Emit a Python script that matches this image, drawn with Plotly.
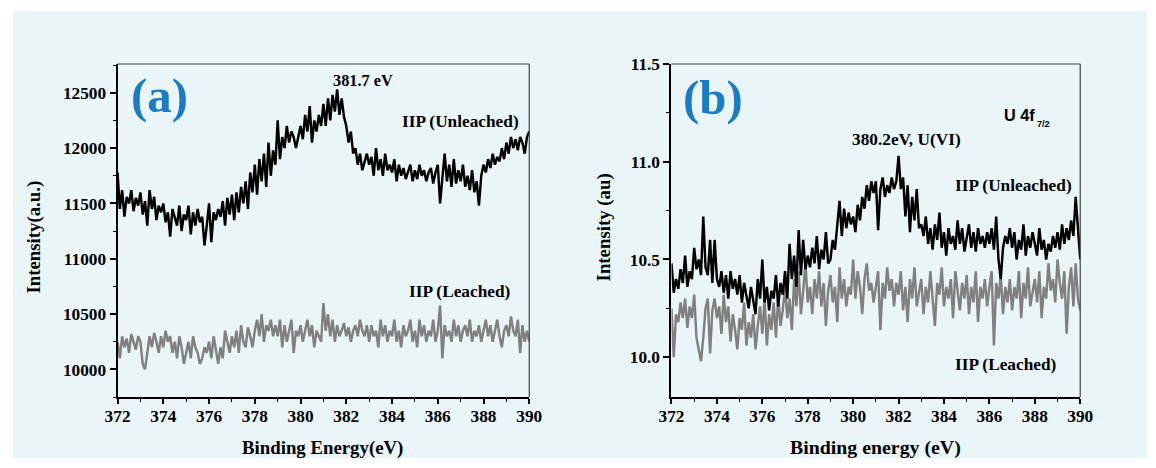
import plotly.graph_objects as go

# ---------------- data ----------------
energy = [round(372 + 0.1 * i, 1) for i in range(181)]

a_unleached = [
    11780, 11450, 11620, 11380, 11560, 11500, 11620, 11430, 11550, 11480,
    11600, 11400, 11520, 11300, 11620, 11450, 11560, 11350, 11480, 11420,
    11500, 11330, 11420, 11200, 11450, 11380, 11300, 11480, 11250, 11400,
    11350, 11480, 11220, 11420, 11300, 11450, 11330, 11380, 11120, 11300,
    11500, 11150, 11420, 11350, 11450, 11380, 11520, 11300, 11550, 11400,
    11580, 11350, 11600, 11420, 11650, 11500, 11700, 11450, 11780, 11600,
    11850, 11580, 11900, 11700, 11950, 11650, 12050, 11750, 11980, 11850,
    12250, 11900, 12100, 12000, 12200, 12050, 12150, 12100, 12000, 12100,
    12200, 12080, 12300, 12150, 12380, 12050, 12250, 12150, 12300, 12200,
    12400, 12200, 12450, 12250, 12480, 12330, 12530, 12300, 12450, 12280,
    12200, 12050, 12150, 11950, 12000, 11850, 11950, 11800, 11880, 11950,
    11850, 11920, 11750, 12000, 11800, 11900, 11750, 11950, 11800, 11850,
    11780, 11900, 11700, 11850, 11750, 11820, 11720, 11780, 11850, 11700,
    11800, 11720, 11850, 11750, 11800, 11700, 11780, 11820, 11680, 11780,
    11850, 11500, 11750, 11950, 11700, 11850, 11650, 11900, 11680, 11800,
    11700, 11850, 11650, 11750, 11620, 11800, 11600, 11700, 11480, 11750,
    11850, 11780, 11900, 11820, 11950, 11850, 11920, 11880, 12000, 11900,
    12050, 11950, 12100, 12000, 12080, 11980, 12100, 12050, 11950, 12100,
    12150,
]

a_leached = [
    10250, 10100, 10300, 10200, 10280, 10150, 10320, 10250, 10180, 10300,
    10250, 10050, 10000, 10150, 10300, 10200, 10330, 10250, 10150, 10300,
    10200, 10350, 10250, 10300, 10150, 10250, 10100, 10300, 10200, 10050,
    10150, 10250, 10100, 10300, 10200, 10150, 10050, 10100, 10200, 10150,
    10250, 10100, 10300, 10150, 10050, 10200, 10100, 10350, 10250, 10150,
    10300, 10200, 10350, 10150, 10400, 10250, 10200, 10380, 10300, 10200,
    10350, 10450, 10300, 10500, 10250, 10400, 10350, 10450, 10300, 10400,
    10300, 10450, 10200, 10400, 10250, 10350, 10450, 10150, 10350, 10300,
    10400, 10250, 10350, 10450, 10300, 10400, 10200, 10350, 10300, 10250,
    10600, 10350, 10500, 10300, 10450, 10250, 10400, 10300, 10350, 10420,
    10300, 10380, 10250, 10350, 10400, 10300, 10450, 10350, 10300, 10400,
    10250, 10400, 10300, 10350, 10200, 10450, 10300, 10400, 10250, 10350,
    10300, 10450, 10250, 10350, 10200, 10400, 10300, 10350, 10450, 10250,
    10350, 10200, 10450, 10300, 10400, 10250, 10350, 10300, 10450, 10250,
    10350, 10580, 10100, 10400, 10300, 10350, 10250, 10450, 10300, 10400,
    10250, 10350, 10400, 10300, 10450, 10250, 10350, 10300, 10400, 10250,
    10350, 10450, 10300, 10400, 10250, 10350, 10450, 10300, 10200, 10350,
    10400, 10300, 10480, 10350, 10300, 10450, 10150, 10400, 10250, 10350,
    10250,
]

b_unleached = [
    10.48, 10.33, 10.40, 10.35, 10.45, 10.38, 10.52, 10.36, 10.44, 10.40,
    10.56, 10.45, 10.50, 10.42, 10.72, 10.46, 10.42, 10.60, 10.38, 10.60,
    10.40, 10.36, 10.44, 10.33, 10.42, 10.30, 10.44, 10.35, 10.40, 10.32,
    10.42, 10.28, 10.38, 10.32, 10.25, 10.36, 10.30, 10.22, 10.40, 10.30,
    10.50, 10.28, 10.36, 10.24, 10.34, 10.30, 10.42, 10.26, 10.38, 10.32,
    10.44, 10.30, 10.58, 10.40, 10.52, 10.36, 10.65, 10.42, 10.60, 10.45,
    10.52, 10.46, 10.56, 10.48, 10.62, 10.45, 10.55, 10.50, 10.64, 10.48,
    10.50, 10.60, 10.55, 10.66, 10.80, 10.62, 10.76, 10.66, 10.74, 10.68,
    10.72, 10.64, 10.78, 10.70, 10.82, 10.76, 10.88, 10.80, 10.90, 10.84,
    10.90, 10.65, 10.86, 10.92, 10.82, 10.88, 10.84, 10.92, 10.86, 10.90,
    11.03, 10.86, 10.92, 10.72, 10.88, 10.64, 10.82, 10.70, 10.86, 10.66,
    10.68, 10.62, 10.72, 10.58, 10.66, 10.55, 10.68, 10.60, 10.74, 10.56,
    10.64, 10.52, 10.66, 10.58, 10.62, 10.55, 10.70, 10.58, 10.66, 10.54,
    10.62, 10.68, 10.56, 10.64, 10.54, 10.66, 10.58, 10.62, 10.56, 10.64,
    10.58, 10.66, 10.55, 10.72, 10.50, 10.40, 10.56, 10.62, 10.58, 10.66,
    10.56, 10.64, 10.50, 10.60, 10.55, 10.68, 10.52, 10.62, 10.56, 10.64,
    10.58, 10.52, 10.66, 10.55, 10.60, 10.50, 10.58, 10.54, 10.62, 10.56,
    10.64, 10.55, 10.68, 10.58, 10.66, 10.60, 10.70, 10.62, 10.82, 10.65,
    10.50,
]

b_leached = [
    10.25, 10.00, 10.22, 10.18, 10.28, 10.20, 10.30, 10.15, 10.26, 10.20,
    10.32, 10.10, 10.04, 9.98, 10.10, 10.25, 10.30, 10.02, 10.24, 10.30,
    10.20, 10.26, 10.12, 10.32, 10.18, 10.26, 10.08, 10.22, 10.14, 10.04,
    10.20, 10.14, 10.28, 10.06, 10.18, 10.10, 10.22, 10.04, 10.16, 10.26,
    10.12, 10.30, 10.06, 10.22, 10.14, 10.28, 10.10, 10.32, 10.16, 10.24,
    10.36, 10.20, 10.30, 10.14, 10.40, 10.26, 10.44, 10.22, 10.34, 10.48,
    10.28, 10.36, 10.22, 10.40, 10.30, 10.44, 10.26, 10.38, 10.16, 10.34,
    10.42, 10.28, 10.36, 10.18, 10.46, 10.30, 10.40, 10.26, 10.36, 10.32,
    10.50, 10.30, 10.44, 10.36, 10.22, 10.40, 10.48, 10.34, 10.38, 10.28,
    10.36, 10.44, 10.14, 10.38, 10.30, 10.46, 10.34, 10.40, 10.26, 10.38,
    10.32, 10.44, 10.24, 10.36, 10.18, 10.40, 10.30, 10.46, 10.26, 10.34,
    10.40, 10.22, 10.36, 10.28, 10.44, 10.30, 10.16, 10.38, 10.32, 10.46,
    10.26, 10.36, 10.30, 10.40, 10.20, 10.44, 10.32, 10.24, 10.38, 10.30,
    10.42, 10.22, 10.36, 10.28, 10.44, 10.18, 10.36, 10.30, 10.40, 10.26,
    10.36, 10.44, 10.06, 10.38, 10.30, 10.42, 10.22, 10.36, 10.28, 10.40,
    10.24, 10.36, 10.30, 10.44, 10.20, 10.38, 10.30, 10.46, 10.26, 10.34,
    10.40, 10.28, 10.44, 10.20, 10.36, 10.30, 10.48, 10.34, 10.40, 10.28,
    10.50, 10.38, 10.30, 10.44, 10.12, 10.36, 10.46, 10.26, 10.48, 10.30,
    10.24,
]

x_ticks = [372, 374, 376, 378, 380, 382, 384, 386, 388, 390]
a_yticks = [10000, 10500, 11000, 11500, 12000, 12500]
a_yticklabels = ["10000", "10500", "11000", "11500", "12000", "12500"]
b_yticks = [10.0, 10.5, 11.0, 11.5]
b_yticklabels = ["10.0", "10.5", "11.0", "11.5"]

# ---------------- geometry ----------------
# The page keeps the default 8px body margin and the photo is a slightly
# downscaled view, so target positions are converted to page coordinates.
OFF = 8
S = 0.983
SHIFT_X = 2
W, H = 1160, 460

def px_x(p):
    return ((p - SHIFT_X) / S - OFF) / W

def px_y(p):
    return 1 - (p / S - OFF) / H

def fs(v):
    return v / S

BG = "#eaf5f8"
SERIF = "Liberation Serif"
SANS = "Liberation Sans"
BLACK = "#000000"
GREY = "#808080"
BLUE = "#1a7bc6"

fig = go.Figure()
LW = fs(2.4)
fig.add_trace(go.Scatter(x=energy, y=a_unleached, mode="lines",
                         line=dict(color=BLACK, width=LW), xaxis="x", yaxis="y",
                         showlegend=False))
fig.add_trace(go.Scatter(x=energy, y=a_leached, mode="lines",
                         line=dict(color=GREY, width=LW), xaxis="x", yaxis="y",
                         showlegend=False))
fig.add_trace(go.Scatter(x=energy, y=b_leached, mode="lines",
                         line=dict(color=GREY, width=LW), xaxis="x2", yaxis="y2",
                         showlegend=False))
fig.add_trace(go.Scatter(x=energy, y=b_unleached, mode="lines",
                         line=dict(color=BLACK, width=LW), xaxis="x2", yaxis="y2",
                         showlegend=False))

ydom = [px_y(397), px_y(63)]
tickfont = dict(family=SERIF, size=fs(17), color=BLACK, weight="bold")

def xaxis(dom, anchor):
    return dict(domain=dom, anchor=anchor, range=[372, 390], tickvals=x_ticks,
                showline=True, linecolor=BLACK, linewidth=2, ticks="outside",
                ticklen=5, tickwidth=1.5, tickcolor=BLACK, tickfont=tickfont,
                ticklabelstandoff=-3,
                minor=dict(ticks="outside", ticklen=3, dtick=1, tickcolor=BLACK, tickwidth=1),
                showgrid=False, zeroline=False, mirror=False)

fig.update_layout(
    width=W, height=H, margin=dict(l=0, r=0, t=0, b=0),
    paper_bgcolor="white", plot_bgcolor=BG,
    xaxis=xaxis([px_x(115), px_x(529)], "y"),
    xaxis2=xaxis([px_x(672), px_x(1083)], "y2"),
    yaxis=dict(domain=ydom, anchor="x", range=[9750, 12760], tickvals=a_yticks,
               ticktext=a_yticklabels, showline=True, linecolor=BLACK, linewidth=2,
               ticks="outside", ticklen=6, tickwidth=1.5, tickcolor=BLACK,
               tickfont=tickfont, showgrid=False, zeroline=False,
               minor=dict(ticks="outside", ticklen=3, dtick=250, tick0=10000,
                          tickcolor=BLACK, tickwidth=1)),
    yaxis2=dict(domain=ydom, anchor="x2", range=[9.796, 11.5], tickvals=b_yticks,
                ticktext=b_yticklabels, showline=True, linecolor=BLACK, linewidth=2,
                ticks="outside", ticklen=6, tickwidth=1.5, tickcolor=BLACK,
                tickfont=tickfont, showgrid=False, zeroline=False,
                minor=dict(ticks="outside", ticklen=3, dtick=0.25, tick0=10.0,
                           tickcolor=BLACK, tickwidth=1)),
)

shapes = [
    dict(type="rect", xref="paper", yref="paper", x0=max(0, px_x(7)), x1=min(1, px_x(1151)),
         y0=max(0, px_y(458)), y1=px_y(10), fillcolor=BG, line=dict(width=0), layer="below"),
]
for xr, yr in (("x domain", "y domain"), ("x2 domain", "y2 domain")):
    shapes.append(dict(type="line", xref=xr, yref=yr, x0=0, x1=1, y0=1, y1=1,
                       line=dict(color="#444444", width=1.2)))
    shapes.append(dict(type="line", xref=xr, yref=yr, x0=1, x1=1, y0=0, y1=1,
                       line=dict(color="#444444", width=1.2)))
fig.update_layout(shapes=shapes)

def ann(text, x, y, size=17, color=BLACK, family=SERIF, angle=0, xanchor="center"):
    return dict(text=text, x=px_x(x), y=px_y(y), xref="paper", yref="paper",
                showarrow=False, xanchor=xanchor, yanchor="middle", textangle=angle,
                font=dict(family=family, size=fs(size), color=color, weight="bold"))

annotations = [
    ann("(a)", 157, 95, size=48, color=BLUE),
    ann("(b)", 714, 97, size=48, color=BLUE),
    ann("381.7 eV", 362, 80, size=16),
    ann("IIP (Unleached)", 460, 121, size=17),
    ann("IIP (Leached)", 459, 291, size=17),
    ann("380.2eV, U(VI)", 908, 139, size=17),
    ann("IIP (Unleached)", 1016, 185, size=17),
    ann("IIP (Leached)", 1008, 364, size=17),
    ann("U 4f", 1004, 114, size=16, family=SANS, xanchor="left"),
    ann("7/2", 1038, 123, size=9, family=SANS, xanchor="left"),
    ann("Binding Energy(eV)", 321, 448, size=18.5),
    ann("Binding energy (eV)", 877, 448, size=19.5),
    ann("Intensity(a.u.)", 31, 237, size=18.5, angle=-90),
    ann("Intensity (au)", 604, 227, size=18.5, angle=-90),
]
fig.update_layout(annotations=annotations)

fig.write_html("out.html")
